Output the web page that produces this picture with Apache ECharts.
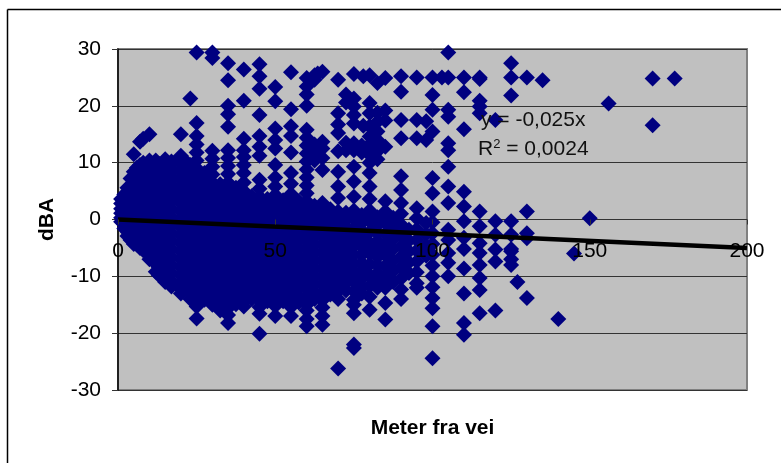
<!DOCTYPE html>
<html><head><meta charset="utf-8">
<style>html,body{margin:0;padding:0;background:#fff}#c{width:781px;height:463px}</style>
<script src="https://cdn.jsdelivr.net/npm/echarts@6/dist/echarts.min.js"></script>
</head><body><div id="c"></div>
<script>
const trendX=[0,200];
const trendY=[0,-5];
const d1=[3.6,2.8,1.9,1.1,0.3,-0.4];
const d2=[4.4,3.5,2.6,1.7,0.8,0,-0.9,-1.6];
const d3=[5.6,4.7,3.6,2.4,1.3,0.2,-0.9,-2.1,-2.9];
const d4=[7.2,6,4.8,3.5,2.2,1,-0.3,-1.5,-2.7,-3.6];
const d5=[11.5,8.4,7.1,5.7,4.3,2.9,1.5,0.1,-1.3,-2.6,-4.3];
const d6=[9.1,7.8,6.4,5,3.6,2.2,0.8,-0.6,-2,-3.4,-4.4];
const d7=[13.7,9.6,8.2,6.8,5.4,4,2.6,1.2,-0.2,-1.6,-3,-4.4,-5];
const d8=[14.2,10,8.6,7.2,5.8,4.4,3,1.6,0.2,-1.2,-2.6,-4,-5.4];
const d10=[15,10.4,9,7.6,6.2,4.8,3.4,2,0.6,-0.8,-2.2,-3.6,-5,-6.2,-7];
const d12=[10.4,9,7.6,6.2,4.8,3.4,2,0.6,-0.8,-2.2,-3.6,-5,-6.4,-7.8,-9.2];
const d13=[9.8,8.4,7,5.6,4.2,2.8,1.4,0,-1.4,-2.8,-4.2,-5.6,-7,-8.4,-9.8];
const d15=[10.6,9.2,7.8,6.4,5,3.6,2.2,0.8,-0.6,-2,-3.4,-4.8,-6.2,-7.6,-9,-10.2,-11];
const d17=[10.2,8.8,7.4,6,4.6,3.2,1.8,0.4,-1,-2.4,-3.8,-5.2,-6.6,-8,-9.4,-10.8,-11.8];
const d20=[15,11.2,9.8,8.4,7,5.6,4.2,2.8,1.4,0,-1.4,-2.8,-4.2,-5.6,-7,-8.4,-9.8,-11.2,-12.2,-13];
const d22=[10,8.6,7.2,5.8,4.4,3,1.6,0.2,-1.2,-2.6,-4,-5.4,-6.8,-8.2,-9.6,-11,-12.4];
const d23=[21.3,9.6,8.2,6.8,5.4,4,2.6,1.2,-0.2,-1.6,-3,-4.4,-5.8,-7.2,-8.6,-10,-11.4,-12.8,-14];
const d25=[29.4,17,14.7,13.2,11.8,10.4,9,7.6,6.2,4.8,3.4,2,0.6,-0.8,-2.2,-3.6,-5,-6.4,-7.8,-9.2,-10.6,-12,-13.4,-14.6,-15.3,-17.4];
const d27=[8.2,6.8,5.4,4.1,2.7,1.3,-0.1,-1.5,-2.9,-4.3,-5.7,-7.1,-8.5,-9.9,-11.3,-12.7,-14.1];
const d30=[29.4,28.4,12.1,10.7,9.3,7.9,6.5,5.1,3.7,2.3,0.9,-0.5,-1.9,-3.3,-4.7,-6.1,-7.5,-8.9,-10.3,-11.7,-13.1,-14.5,-15];
const d32=[6.2,4.7,3.2,1.8,0.4,-1,-2.4,-3.8,-5.2,-6.6,-8,-9.4,-10.8,-12.2,-13.6,-15,-16];
const d35=[27.5,24.5,20,18.5,16.3,12.2,10.8,9.4,8,6.5,5.2,4,2.6,1.2,-0.2,-1.6,-3,-4.4,-5.8,-7.2,-8.6,-10,-11.4,-12.8,-14.2,-15.6,-16.8,-18.2];
const d37=[5.6,4.4,3.3,1.9,0.5,-0.9,-2.3,-3.7,-5.1,-6.5,-7.9,-9.3,-10.7,-12.1,-13.5,-14.9];
const d40=[26.4,20.9,14.2,12.2,11,9.6,8.2,6.5,5,3.5,2.1,0.7,-0.7,-2.1,-3.5,-4.9,-6.3,-7.7,-9.1,-10.5,-11.9,-13.3,-14.4,-15.3];
const d42=[4.1,2.8,1.4,0,-1.4,-2.8,-4.2,-5.6,-7,-8.4,-9.8,-11.2,-12.6,-14];
const d45=[27.3,25.2,23,18.4,14.7,12.8,11.2,7,5.4,4,2.6,1.2,-0.2,-1.6,-3,-4.4,-5.8,-7.2,-8.6,-10,-11.4,-12.8,-14.2,-15.4,-16.6,-20.1];
const d47=[3.6,2.4,1,-0.4,-1.8,-3.2,-4.6,-6,-7.4,-8.8,-10.2,-11.6,-13,-14.4];
const d50=[23.3,20.8,16,14,12.5,9.6,7.4,5.8,4.3,3,1.6,0.2,-1.2,-2.6,-4,-5.4,-6.8,-8.2,-9.6,-11,-12.4,-13.8,-15.2,-17];
const d52=[3.4,2.2,0.8,-0.6,-2,-3.4,-4.8,-6.2,-7.6,-9,-10.4,-11.8,-13.2,-14.4];
const d55=[25.9,19.4,16.4,14.7,11.8,8.2,6.3,4.5,3,1.6,0.2,-1.2,-2.6,-4,-5.4,-6.8,-8.2,-9.6,-11,-12.4,-13.8,-15.4,-17];
const d57=[3.2,1.9,0.5,-0.9,-2.3,-3.7,-5.1,-6.5,-7.9,-9.3,-10.7,-12.1,-13.5,-14.6];
const d60=[24.9,23.4,22,20,15.8,14.4,13,11.6,10.2,8.8,7.4,6,4.6,3.2,1.8,0.4,-1,-2.4,-3.8,-5.2,-6.6,-8,-9.4,-10.8,-12.2,-13.6,-15,-16,-17.5,-18.8];
const d62=[25.4,24.6,13.2,11.8,10.4,2.4,1.1,-0.3,-1.7,-3.1,-4.5,-5.9,-7.3,-8.7,-10.1,-11.5,-12.9,-14];
const d63=[25.7];
const d65=[26,13.7,12.5,10.8,8.7,2.9,1.2,-0.2,-1.6,-3,-4.4,-5.8,-7.2,-8.6,-10,-11.4,-12.8,-14.2,-15.5,-17,-18.5];
const d67=[1.8,0.5,-0.9,-2.3,-3.7,-5.1,-6.5,-7.9,-9.3,-10.7,-12.1,-13.2];
const d70=[24.6,18.7,16.7,15.2,12,8.4,5.8,3.8,1.4,0,-1.4,-2.8,-4.2,-5.6,-7,-8.4,-9.8,-11.2,-12.6,-14,-26.2];
const d72=[22,20.6,13.5,12.2,1.2,0.1,-1.3,-2.7,-4.1,-5.5,-6.9,-8.3,-9.7,-11.1,-12.5];
const d75=[25.6,21.3,19.9,18.4,16.9,13.4,12.2,9.3,6.7,4,1.6,0.1,-1.5,-3,-4.6,-6.2,-7.8,-9.4,-11,-12.6,-14.1,-15,-16.5,-22,-22.6];
const d77=[13,11.8,0.8,-0.6,-2,-3.4,-4.8,-6.2,-7.6,-9,-10.4,-11.8,-13];
const d78=[25.2,12.6,16.5];
const d80=[25.4,20.5,18.7,16.4,14.6,13.2,11.4,10,8.2,5.8,3.6,1.6,-0.3,-2.2,-4.1,-6,-7.9,-9.8,-11.7,-13.6,-15.9];
const d82=[24,18.8,17.2,15.5,14,12,10.6,0.4,-1,-2.4,-3.8,-5.2,-6.6,-8,-9.4,-10.8,-12];
const d85=[24.9,19.2,17.4,12.8,3.2,1.4,-0.6,-2.5,-4.4,-6.3,-8.2,-10.1,-12,-14.7,-17.6];
const d87=[0.3,-1.5,-3.4,-5.2,-7.2,-9,-11];
const d90=[25.2,22.5,17.5,14.3,7.6,5.2,2.9,1,-0.9,-2.8,-4.7,-6.6,-8.5,-10.4,-12.3,-14];
const d92=[-1.8,-3.7,-5.6,-7.5,-9.4];
const d95=[25,17.5,14.3,2,0.2,-1.7,-3.6,-5.5,-7.4,-9.3,-11.2,-12];
const d98=[14,17.3,-0.6,-2.6,-4.6,-6.4];
const d100=[25,21.9,19.3,15.5,7.3,4.6,1.4,-0.5,-2.4,-4.3,-6.2,-8.1,-10,-11.9,-13.8,-15.6,-18.8,-24.4];
const d103=[25];
const d105=[29.4,25,19.3,18.1,13.4,12.2,9.3,5.8,2.9,-1.8,-3.6,-5.9,-7.6,-10];
const d110=[25,22.4,15.9,4.9,2.3,-0.3,-3.2,-5.2,-8.6,-13,-18.2,-20.3];
const d115=[24.7,25,20.9,19.9,18.7,1.4,-1.2,-4.2,-5.9,-8,-10.3,-12.4,-16.5];
const d120=[17.5,-0.3,-2.7,-5.3,-7.4,-16];
const d125=[27.5,25,21.8,-0.3,-2.7,-5.2,-8,-5.6,-7];
const d127=[-11];
const d130=[25,1.4,-2.4,-3.3,-13.8];
const d135=[24.5];
const d140=[-17.5];
const d145=[-6];
const d150=[0.2];
const d156=[20.4];
const d170=[24.8,16.6];
const d177=[24.8];
const columns=[[1,d1],[2,d2],[3,d3],[4,d4],[5,d5],[6,d6],[7,d7],[8,d8],[10,d10],[12,d12],[13,d13],[15,d15],[17,d17],[20,d20],[22,d22],[23,d23],[25,d25],[27.5,d27],[30,d30],[32.5,d32],[35,d35],[37.5,d37],[40,d40],[42.5,d42],[45,d45],[47.5,d47],[50,d50],[52.5,d52],[55,d55],[57.5,d57],[60,d60],[62.5,d62],[63.5,d63],[65,d65],[67.5,d67],[70,d70],[72.5,d72],[75,d75],[77.5,d77],[78,d78],[80,d80],[82.5,d82],[85,d85],[87.5,d87],[90,d90],[92.5,d92],[95,d95],[98,d98],[100,d100],[103,d103],[105,d105],[110,d110],[115,d115],[120,d120],[125,d125],[127,d127],[130,d130],[135,d135],[140,d140],[145,d145],[150,d150],[156,d156],[170,d170],[177,d177]];
const points=[];
columns.forEach(function(c){c[1].forEach(function(y){points.push([c[0],y]);});});
const trend=trendX.map(function(x,i){return [x,trendY[i]];});
const FONT='"Liberation Sans",Arial,sans-serif';
const chart=echarts.init(document.getElementById('c'),null,{renderer:'canvas'});
chart.setOption({
 animation:false,
 grid:{left:118,right:34,top:49,bottom:73,outerBoundsMode:'none',show:true,backgroundColor:'#c0c0c0',borderColor:'#808080',borderWidth:2},
 xAxis:{type:'value',min:0,max:200,interval:50,z:10,position:'bottom',offset:-170.5,
  name:'Meter fra vei',nameLocation:'middle',nameGap:198,
  nameTextStyle:{fontFamily:FONT,fontSize:21,fontWeight:'bold',color:'#000'},
  axisLine:{show:true,onZero:false,lineStyle:{color:'#333',opacity:0}},
  axisTick:{show:true,length:5,lineStyle:{color:'#333'}},
  axisLabel:{margin:21,fontFamily:FONT,fontSize:21,color:'#000',hideOverlap:false},
  splitLine:{show:false}},
 yAxis:{type:'value',min:-30,max:30,interval:10,z:0,
  name:'dBA',nameLocation:'middle',nameGap:60,nameRotate:90,
  nameTextStyle:{fontFamily:FONT,fontSize:21,fontWeight:'bold',color:'#000'},
  axisLine:{show:true,onZero:false,lineStyle:{color:'#000',width:1.5}},
  axisTick:{show:true,length:6,lineStyle:{color:'#333'}},
  axisLabel:{margin:17,fontFamily:FONT,fontSize:21,color:'#000'},
  splitLine:{show:true,lineStyle:{color:'#333',width:1}}},
 series:[
  {type:'scatter',data:points,symbol:'diamond',symbolSize:16,clip:false,z:2,itemStyle:{color:'#000080',opacity:1}},
  {type:'line',data:trend,showSymbol:false,symbol:'none',clip:false,z:3,lineStyle:{color:'#000',width:4.5}}
 ],
 graphic:[
  {type:'line',silent:true,shape:{x1:7.5,y1:9.5,x2:781,y2:9.5},style:{stroke:'#000',lineWidth:1.5}},
  {type:'line',silent:true,shape:{x1:7.5,y1:9.5,x2:7.5,y2:463},style:{stroke:'#000',lineWidth:1.5}},
  {type:'text',z:20,left:481,top:110,style:{text:'y = -0,025x',font:'21px '+FONT,fill:'#111'}},
  {type:'text',z:20,left:478,top:138,style:{text:'R{s|2} = 0,0024',font:'21px '+FONT,fill:'#111',rich:{s:{fontSize:13,fontFamily:FONT,verticalAlign:'top',fill:'#111',padding:[0,0,9,0]}}}}
 ]
});
</script></body></html>
